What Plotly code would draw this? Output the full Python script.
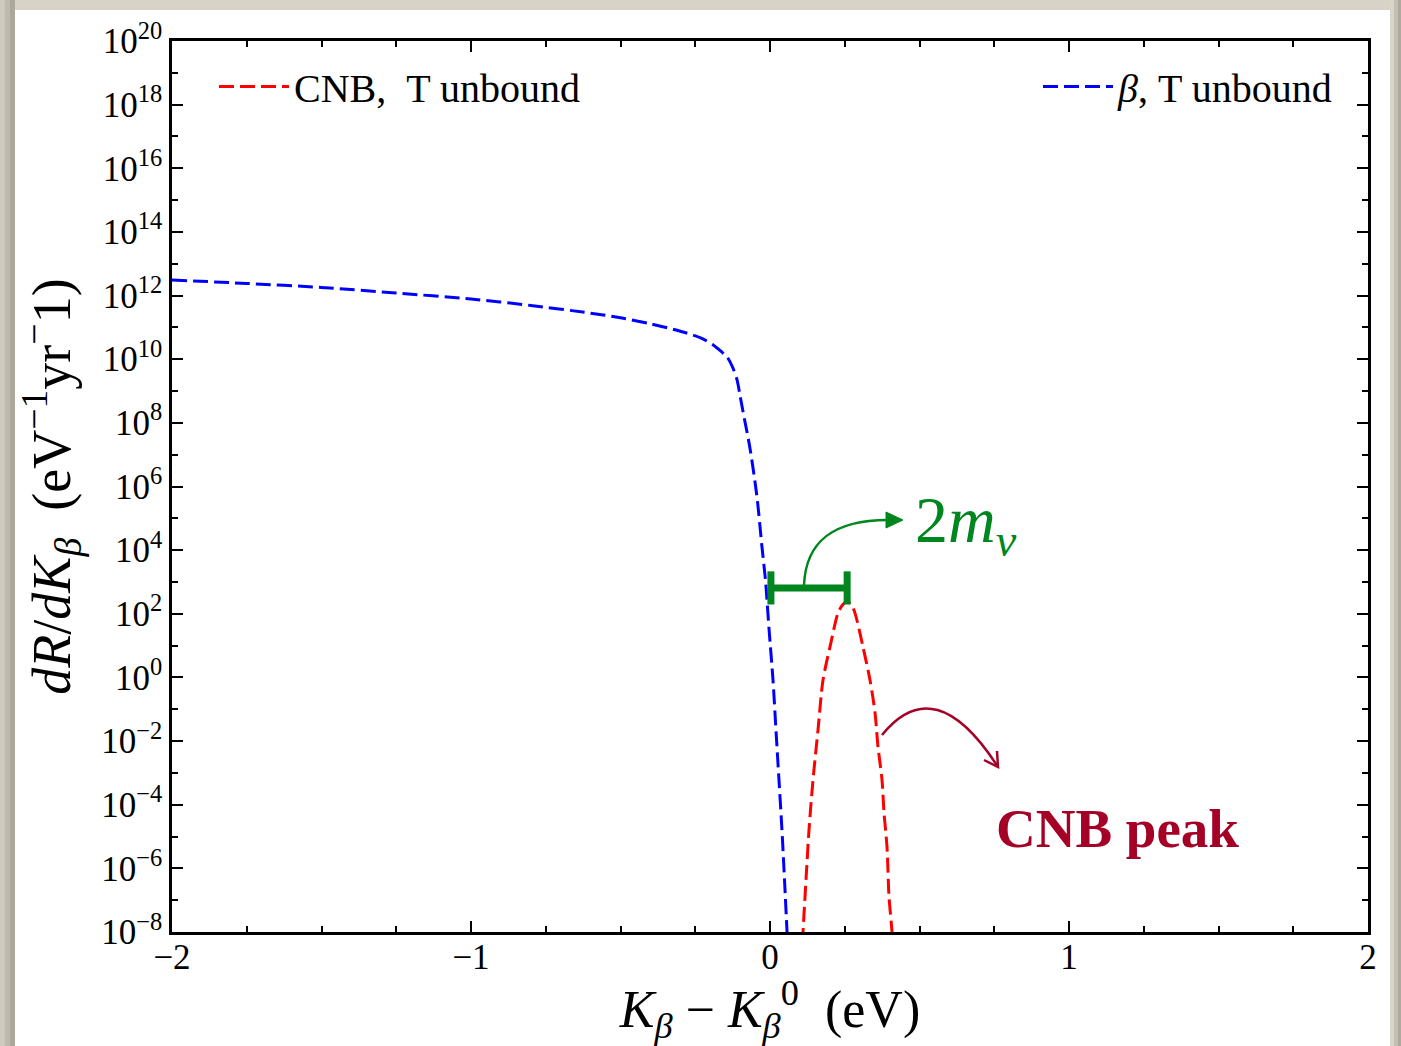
import math
import plotly.graph_objects as go

# Beta spectrum near the endpoint (tritium unbound), K_beta - K_beta^0 in eV
beta_k = [-2.00, -1.75, -1.50, -1.25, -1.00, -0.80, -0.60, -0.50, -0.40, -0.30,
          -0.23, -0.19, -0.16, -0.144, -0.125, -0.110, -0.100, -0.090, -0.067,
          -0.0435, -0.027, -0.015, -0.003, 0.010, 0.020, 0.030, 0.040, 0.0485,
          0.057, 0.065]
beta_rate = [3.1e12, 2.4e12, 1.8e12, 1.2e12, 7.8e11, 4.9e11, 2.8e11, 2.0e11,
             1.3e11, 7.6e10, 4.6e10, 2.8e10, 1.65e10, 1.2e10, 5.6e9, 2.2e9,
             7.0e8, 2.2e8, 1.6e7, 4.7e5, 1.3e4, 1.1e3, 31.0, 0.83, 2.2e-2,
             6.0e-4, 1.6e-5, 4.4e-7, 1.0e-8, 2.5e-10]

# Cosmic neutrino background capture peak
cnb_k = [0.105, 0.1104, 0.1204, 0.1304, 0.1438, 0.1605, 0.1773, 0.2007, 0.2274,
         0.2425, 0.2575, 0.2720, 0.2843, 0.3110, 0.3344, 0.3512, 0.3612, 0.3746,
         0.3813, 0.3913, 0.3980, 0.4080, 0.4120]
cnb_rate = [1.0e-9, 1.0e-8, 4.4e-7, 1.6e-5, 6.0e-4, 2.2e-2, 0.83, 9.1, 105.0,
            190.0, 240.0, 195.0, 105.0, 9.1, 0.83, 7.8e-2, 6.6e-3, 6.0e-4,
            5.5e-5, 4.7e-6, 1.3e-7, 1.0e-8, 1.0e-9]

# Axis ticks
x_ticks = [-2, -1, 0, 1, 2]
x_tick_text = ["\u22122", "\u22121", "0", "1", "2"]
y_exponents = list(range(-8, 21, 2))
y_minor_exponents = list(range(-7, 20, 2))

# Width of the 2 m_nu gap: from the beta endpoint to the CNB peak
gap_left, gap_right, gap_level = 0.003, 0.258, 650.0

RED = "#ff0000"
BLUE = "#0000ff"
GREEN = "#00861e"
CRIMSON = "#a50026"
FONT = "Liberation Serif"

W, H = 1401, 1046
L, R, T, B = 172, 1368, 41, 932


def px(p):
    return (p - L) / (R - L)


def py(p):
    return (B - p) / (B - T)


fig = go.Figure()

fig.add_trace(go.Scatter(
    x=cnb_k, y=cnb_rate, mode="lines", name="CNB,\u2002T unbound",
    line=dict(color=RED, width=3, dash="15px,6px", shape="spline", smoothing=0.8),
    legend="legend", showlegend=True,
))
fig.add_trace(go.Scatter(
    x=beta_k, y=beta_rate, mode="lines", name="<i>\u03b2</i>, T unbound",
    line=dict(color=BLUE, width=3, dash="15px,6px", shape="spline", smoothing=0.8),
    legend="legend2", showlegend=True,
))

shapes = []
# framed panel with a soft shadow
for x0, x1, c in [(0, 5, "#cfcabf"), (5, 10, "#bfbaae"), (10, 15, "#aca89c"),
                  (1390, 1394, "#d9d5cb"), (1394, 1398, "#c4bfb4"), (1398, 1401, "#aeaa9e")]:
    shapes.append(dict(type="rect", xref="paper", yref="paper", layer="below",
                       x0=px(x0), x1=px(x1), y0=py(1060), y1=py(-5),
                       fillcolor=c, line=dict(width=0)))
shapes.append(dict(type="rect", xref="paper", yref="paper", layer="below",
                   x0=px(15), x1=px(1390), y0=py(-5), y1=py(10),
                   fillcolor="#d8d3c7", line=dict(width=0)))
shapes.append(dict(type="rect", xref="paper", yref="paper", layer="below",
                   x0=px(15), x1=px(1390), y0=py(1060), y1=py(10),
                   fillcolor="white", line=dict(width=0)))

# 2 m_nu bracket
lv = math.log10(gap_level)
cap_lo, cap_hi = 10 ** (lv - 0.52), 10 ** (lv + 0.52)
shapes.append(dict(type="line", xref="x", yref="y", x0=gap_left, x1=gap_right,
                   y0=gap_level, y1=gap_level, line=dict(color=GREEN, width=7)))
for gx in (gap_left, gap_right):
    shapes.append(dict(type="line", xref="x", yref="y", x0=gx, x1=gx,
                       y0=cap_lo, y1=cap_hi, line=dict(color=GREEN, width=7)))


def path(cmds):
    out = []
    for c in cmds:
        if isinstance(c, str):
            out.append(c)
        else:
            out.append(f"{px(c[0]):.5f},{py(c[1]):.5f}")
    return " ".join(out)


# curved green arrow to the 2 m_nu label
shapes.append(dict(type="path", xref="paper", yref="paper",
                   path=path(["M", (804, 585), "C", (806, 540), (835, 520), (888, 520)]),
                   line=dict(color=GREEN, width=2.5)))
shapes.append(dict(type="path", xref="paper", yref="paper",
                   path=path(["M", (903, 520), "L", (886, 512), "L", (886, 528), "Z"]),
                   fillcolor=GREEN, line=dict(color=GREEN, width=1)))
# curved crimson arrow to the CNB peak label
shapes.append(dict(type="path", xref="paper", yref="paper",
                   path=path(["M", (882, 735), "Q", (935, 669), (998, 767)]),
                   line=dict(color=CRIMSON, width=2.5)))
shapes.append(dict(type="path", xref="paper", yref="paper",
                   path=path(["M", (997, 751), "L", (998, 767), "L", (984, 760)]),
                   line=dict(color=CRIMSON, width=2.5)))

annotations = [
    dict(xref="paper", yref="paper", x=px(913), y=py(524), xanchor="left", yanchor="middle",
         text="2<i>m</i><sub><i>\u03bd</i></sub>", showarrow=False,
         font=dict(family=FONT, size=66, color=GREEN)),
    dict(xref="paper", yref="paper", x=px(1117), y=py(828), xanchor="center", yanchor="middle",
         text="<b>CNB peak</b>", showarrow=False,
         font=dict(family=FONT, size=55, color=CRIMSON)),
]

axis_common = dict(
    showline=True, linecolor="black", linewidth=2.5, mirror="allticks",
    ticks="inside", ticklen=11, tickwidth=2, tickcolor="black",
    showgrid=False, zeroline=False,
    tickfont=dict(family=FONT, size=35, color="black"),
)

fig.update_layout(
    width=W, height=H, autosize=False, showlegend=True,
    margin=dict(l=L, r=W - R, t=T, b=H - B, pad=0),
    paper_bgcolor="#cbc6bb", plot_bgcolor="white",
    font=dict(family=FONT, color="black"),
    shapes=shapes, annotations=annotations,
    xaxis=dict(
        range=[-2, 2], tickvals=x_ticks, ticktext=x_tick_text,
        ticklabelstandoff=-8,
        minor=dict(ticks="inside", ticklen=6, tickwidth=1.5, tickcolor="black",
                   tickvals=[-1.75, -1.5, -1.25, -0.75, -0.5, -0.25,
                             0.25, 0.5, 0.75, 1.25, 1.5, 1.75]),
        title=dict(text="<i>K</i><sub><i>\u03b2</i></sub> \u2212 <i>K</i><sub><i>\u03b2</i></sub><sup>0</sup>\u00a0\u00a0(eV)",
                   font=dict(family=FONT, size=52, color="black"), standoff=12),
        **axis_common,
    ),
    yaxis=dict(
        type="log", range=[-8, 20],
        tickvals=[10.0 ** e for e in y_exponents],
        ticktext=[f"10<sup>{str(e).replace('-', chr(0x2212))}</sup>" for e in y_exponents],
        minor=dict(ticks="inside", ticklen=6, tickwidth=1.5, tickcolor="black",
                   tickvals=[10.0 ** e for e in y_minor_exponents]),
        title=dict(text="<i>dR</i>/<i>dK</i><sub><i>\u03b2</i></sub>\u00a0\u00a0(eV<sup>\u22121</sup>yr<sup>\u2212</sup>1)",
                   font=dict(family=FONT, size=54, color="black"), standoff=14),
        **axis_common,
    ),
    legend=dict(x=px(214), y=py(54), xanchor="left", yanchor="top", itemwidth=70,
                bgcolor="rgba(0,0,0,0)", font=dict(family=FONT, size=40, color="black")),
    legend2=dict(x=px(1338), y=py(54), xanchor="right", yanchor="top", itemwidth=70,
                 bgcolor="rgba(0,0,0,0)", font=dict(family=FONT, size=40, color="black")),
)

fig.write_html("out.html")
